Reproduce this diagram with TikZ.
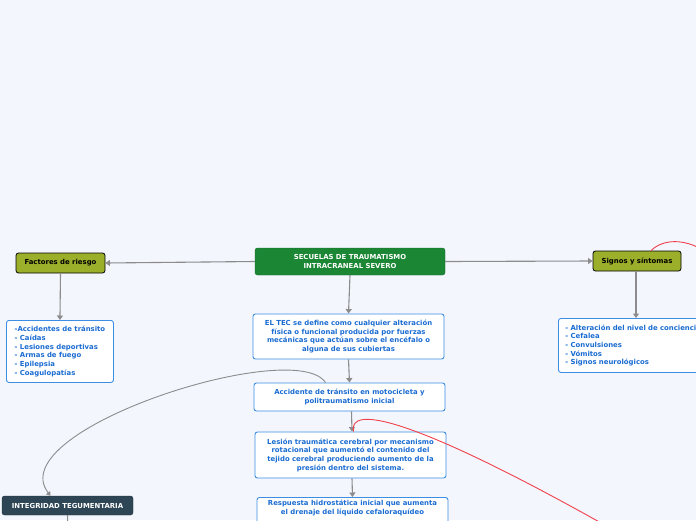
\documentclass[tikz,border=0pt]{standalone}
\usepackage{fontspec}
\setmainfont{DejaVu Sans}
\usetikzlibrary{arrows.meta}
\definecolor{bgc}{HTML}{F3F6FD}
\definecolor{maingreen}{HTML}{1B8634}
\definecolor{olive}{HTML}{9BAF2B}
\definecolor{darkbox}{HTML}{2D4555}
\definecolor{txtblue}{HTML}{1A6CD2}
\definecolor{brdblue}{HTML}{3B8EE4}
\definecolor{conn}{HTML}{8C8C8C}
\definecolor{redc}{HTML}{F0404A}
\tikzset{
  base/.style={font=\fontsize{6.9}{8.7}\selectfont\bfseries, rounded corners=2.5pt, inner sep=3pt},
  mainbox/.style={base, fill=maingreen, draw=maingreen!80!black, text=white, align=center},
  catbox/.style={base, fill=olive, draw=black, line width=0.8pt, text=black, align=center},
  infobox/.style={base, fill=white, draw=brdblue, line width=0.9pt, text=txtblue, align=center},
  listbox/.style={base, fill=white, draw=brdblue, line width=0.9pt, text=txtblue, align=left, inner xsep=7pt},
  darkboxst/.style={base, fill=darkbox, draw=darkbox!70!black, text=white, align=center},
  link/.style={draw=conn, line width=1.1pt, -{Triangle[width=6pt,length=4.5pt]}},
  redlink/.style={draw=redc, line width=0.9pt},
}
\begin{document}
\begin{tikzpicture}[x=1pt,y=-1pt]
\path[use as bounding box] (0,0) rectangle (696,520);
\clip (0,0) rectangle (696,520);
\fill[bgc] (0,0) rectangle (696,520);

\node[mainbox, minimum width=190pt, minimum height=27pt] (main) at (350,261.5)
  {SECUELAS DE TRAUMATISMO\\INTRACRANEAL SEVERO};
\node[catbox, minimum width=89pt, minimum height=20pt] (fact) at (60.5,263) {Factores de riesgo};
\node[catbox, minimum width=88pt, minimum height=20pt] (sig) at (637,261) {Signos y síntomas};
\node[listbox, anchor=north west, minimum width=107pt, minimum height=62pt] (factl) at (6,320)
  {-Accidentes de tránsito\\- Caídas\\- Lesiones deportivas\\- Armas de fuego\\- Epilepsia\\- Coagulopatías};
\node[listbox, anchor=north west, minimum height=54pt, text width=176pt] (sigl) at (558,318)
  {- Alteración del nivel de conciencia\\- Cefalea\\- Convulsiones\\- Vómitos\\- Signos neurológicos};
\node[infobox, minimum width=191pt, minimum height=45pt] (tec) at (348.5,336.5)
  {EL TEC se define como cualquier alteración\\física o funcional producida por fuerzas\\mecánicas que actúan sobre el encéfalo o\\alguna de sus cubiertas};
\node[infobox, minimum width=191pt, minimum height=28pt] (acc) at (349.5,397)
  {Accidente de tránsito en motocicleta y\\politraumatismo inicial};
\node[infobox, minimum width=191pt, minimum height=46pt] (les) at (350.5,455)
  {Lesión traumática cerebral por mecanismo\\rotacional que aumentó el contenido del\\tejido cerebral produciendo aumento de la\\presión dentro del sistema.};
\node[infobox, anchor=north, minimum width=191pt, text depth=14pt] (resp) at (352.5,497)
  {Respuesta hidrostática inicial que aumenta\\el drenaje del líquido cefaloraquídeo};
\node[darkboxst, minimum width=131pt, minimum height=19pt] (integ) at (67.5,505.5)
  {INTEGRIDAD TEGUMENTARIA};
\coordinate (integdown) at (68,530);
\coordinate (sigbot) at (636,271);
\coordinate (sigltop) at (636,318);

\draw[link] (main.west) -- (fact.east);
\draw[link] (main.east) -- (sig.west);
\draw[link] (main.south) -- (tec.north);
\draw[link] (fact.south) -- (factl.north);
\draw[link] (sigbot) -- (sigltop);
\draw[link] ([xshift=2pt]acc.south) -- ([xshift=1.5pt]les.north);
\draw[link] (tec.south) -- (acc.north);
\draw[link] ([xshift=1.5pt]les.south) -- (resp.north);
\draw[draw=conn, line width=1.1pt] (integ.south) -- (integdown);

\draw[draw=conn, line width=0.9pt, -{Triangle[width=5pt,length=4pt]}]
  ([xshift=-24pt]acc.north) .. controls (295,336) and (0,430) .. ([xshift=-17pt]integ.north);

\draw[redlink] ([xshift=3pt]les.north) .. controls (348,405) and (410,413) .. (640,545);
\draw[redlink] ([xshift=14pt]sig.north) .. controls (664,238) and (690,236) .. (720,262);
\end{tikzpicture}
\end{document}
